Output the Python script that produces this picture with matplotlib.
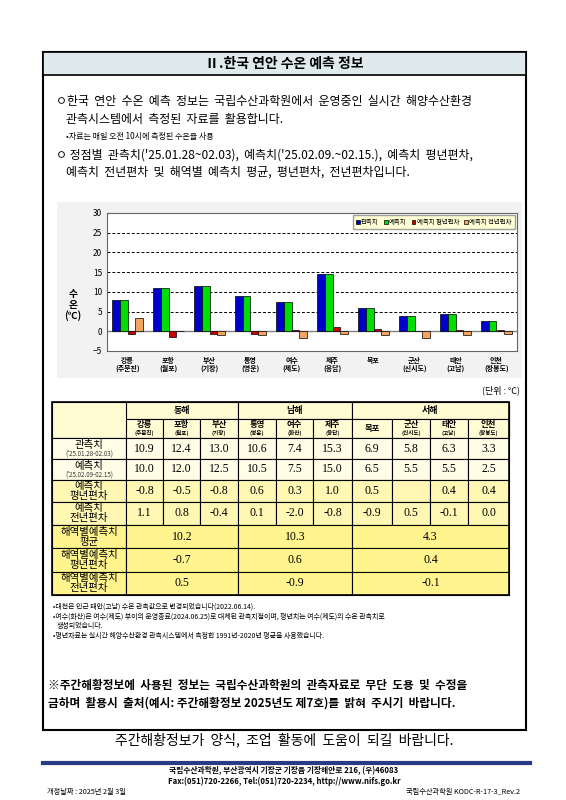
import matplotlib
matplotlib.use("Agg")
import matplotlib.pyplot as plt
from matplotlib.patches import Rectangle
import numpy as np

plt.rcParams['font.family'] = ['Noto Sans CJK KR', 'DejaVu Sans']

stations = ['강릉', '포항', '부산', '통영', '여수', '제주', '목포', '군산', '태안', '인천']
subnames = ['(주문진)', '(월포)', '(기장)', '(영운)', '(제도)', '(응답)', '', '(신시도)', '(고남)', '(장봉도)']
tbl_sub = ['(주문진)', '(월포)', '(기장)', '(영운)', '(화산)', '(응답)', '', '(신시도)', '(고남)', '(장봉도)']
# values as drawn in the chart
chart_obs = [8.0, 11.0, 11.5, 9.0, 7.5, 14.5, 6.0, 4.0, 4.5, 2.5]
chart_fc = [8.0, 11.0, 11.5, 9.0, 7.5, 14.5, 6.0, 4.0, 4.5, 2.5]
chart_norm = [-0.8, -1.5, -0.8, -0.6, 0.4, 1.1, 0.6, 0.0, 0.3, 0.3]
chart_prev = [3.3, 0.0, -1.0, -1.0, -1.7, -0.8, -0.9, -1.6, -1.0, -0.6]
series_names = ['관측치', '예측치', '예측치 평년편차', '예측치 전년편차']
series_colors = ['#0000cc', '#00dd00', '#cc0000', '#f4a460']

# table values
obs = ['10.9', '12.4', '13.0', '10.6', '7.4', '15.3', '6.9', '5.8', '6.3', '3.3']
fc = ['10.0', '12.0', '12.5', '10.5', '7.5', '15.0', '6.5', '5.5', '5.5', '2.5']
norm_dev = ['-0.8', '-0.5', '-0.8', '0.6', '0.3', '1.0', '0.5', '', '0.4', '0.4']
prev_dev = ['1.1', '0.8', '-0.4', '0.1', '-2.0', '-0.8', '-0.9', '0.5', '-0.1', '0.0']
seas = ['동해', '남해', '서해']
sea_mean = ['10.2', '10.3', '4.3']
sea_norm = ['-0.7', '0.6', '0.4']
sea_prev = ['0.5', '-0.9', '-0.1']

W, H = 566, 800
fig = plt.figure(figsize=(W / 100, H / 100), dpi=100)
fig.patch.set_facecolor('white')
ov = fig.add_axes([0, 0, 1, 1])
ov.set_xlim(0, W); ov.set_ylim(H, 0); ov.axis('off')

def box(x0, y0, x1, y1, fc='none', lw=0.8, ec='black', z=1):
    ov.add_patch(Rectangle((x0, y0), x1 - x0, y1 - y0, facecolor=fc, edgecolor=ec, lw=lw, zorder=z))

def txt(x, y, s, size=8.5, ha='left', weight='normal', **kw):
    ov.text(x, y, s, fontsize=size, ha=ha, va='center', fontweight=weight, **kw)

# frame and title
box(43, 52, 526, 730, lw=1.5)
box(43, 52, 526, 75, fc='#dfeaec', lw=1.2)
txt(284, 64, 'Ⅱ.한국 연안 수온 예측 정보', 10, 'center', 'bold')
txt(56, 102, 'ㅇ한국  연안  수온  예측  정보는  국립수산과학원에서  운영중인  실시간  해양수산환경', 8.6)
txt(66, 119, '관측시스템에서  측정된  자료를  활용합니다.', 8.6)
txt(66, 136, '•자료는 매일 오전 10시에 측정된 수온을 사용', 5.8)
txt(56, 155, 'ㅇ 정점별  관측치(\'25.01.28~02.03),  예측치(\'25.02.09.~02.15.),  예측치  평년편차,', 8.6)
txt(66, 172, '예측치  전년편차  및  해역별  예측치  평균,  평년편차,  전년편차입니다.', 8.6)

# chart
box(57, 202, 522, 378, fc='#f2f2f2', lw=0, ec='none', z=0)
ax = fig.add_axes([107 / W, 1 - 351 / H, 410 / W, 138 / H])
x = np.arange(len(stations))
w = 0.19
for i, vals in enumerate([chart_obs, chart_fc, chart_norm, chart_prev]):
    ax.bar(x + (i - 1.5) * w, vals, w, color=series_colors[i], edgecolor='black', lw=0.5,
           label=series_names[i], zorder=3)
ax.set_ylim(-5, 30)
ax.set_xlim(-0.5, len(stations) - 0.5)
ax.set_yticks(range(-5, 31, 5))
ax.tick_params(axis='y', labelsize=6, length=0)
ax.set_xticks(x)
ax.set_xticklabels([f'{a}\n{b}' for a, b in zip(stations, subnames)], fontsize=5, fontweight='bold')
ax.tick_params(axis='x', length=0, pad=4)
for yv in range(5, 30, 5):
    ax.axhline(yv, color='black', ls=(0, (3, 2)), lw=0.7, zorder=1)
ax.axhline(0, color='gray', lw=1, zorder=2)
for s in ax.spines.values():
    s.set_color('#666666'); s.set_linewidth(0.8)
leg = ax.legend(loc='upper right', ncol=4, fontsize=4.6, frameon=True, handlelength=0.6,
                handleheight=0.6, handletextpad=0.2, columnspacing=0.8, borderpad=0.5,
                fancybox=False, borderaxespad=0.3)
leg.get_frame().set_facecolor('#ffffcc'); leg.get_frame().set_edgecolor('#888888')
txt(73, 305, '수\n온\n(℃)', 7, 'center', 'bold', linespacing=1.1)
txt(520, 390, '(단위 : ℃)', 6.5, 'right')

# table
cols = [52, 126, 163, 200, 238, 276, 313, 352, 392, 430, 468, 509]
rows = [402, 419, 438, 459, 480, 502, 525, 548, 572, 595]
c_head, c_val, c_dev, c_sea = '#fffbd2', '#fffde6', '#fff7b4', '#fff48e'
# header
box(cols[0], rows[0], cols[-1], rows[2], fc=c_head)
for k, sea in enumerate(seas):
    a, b = cols[1 + 3 * k], cols[1 + 3 * k + 3] if k < 2 else cols[-1]
    box(a, rows[0], b, rows[1], fc=c_head)
    txt((a + b) / 2, (rows[0] + rows[1]) / 2, sea, 6.5, 'center', 'bold')
for j in range(10):
    a, b = cols[1 + j], cols[2 + j]
    box(a, rows[1], b, rows[2], fc=c_head)
    cy = (rows[1] + rows[2]) / 2
    if tbl_sub[j]:
        txt((a + b) / 2, cy - 3.5, stations[j], 6, 'center', 'bold')
        txt((a + b) / 2, cy + 4.5, tbl_sub[j], 4, 'center', 'bold')
    else:
        txt((a + b) / 2, cy, stations[j], 6, 'center', 'bold')
labels = [('관측치', "('25.01.28-02.03)"), ('예측치', "('25.02.09-02.15)"),
          ('예측치\n평년편차', None), ('예측치\n전년편차', None)]
data = [obs, fc, norm_dev, prev_dev]
fills = [c_val, c_val, c_dev, c_dev]
for r in range(4):
    y0, y1 = rows[2 + r], rows[3 + r]
    cy = (y0 + y1) / 2
    box(cols[0], y0, cols[1], y1, fc=fills[r])
    lab, sub = labels[r]
    if sub:
        txt(89, cy - 3.5, lab, 7.5, 'center')
        txt(89, cy + 5, sub, 4.5, 'center', color='#333333')
    else:
        txt(89, cy, lab, 7.5, 'center', linespacing=1.0)
    for j in range(10):
        a, b = cols[1 + j], cols[2 + j]
        box(a, y0, b, y1, fc=fills[r])
        txt((a + b) / 2, cy, data[r][j], 8.5, 'center', family=['Liberation Serif'])
sea_labels = ['해역별예측치\n평균', '해역별예측치\n평년편차', '해역별예측치\n전년편차']
for r, vals in enumerate([sea_mean, sea_norm, sea_prev]):
    y0, y1 = rows[6 + r], rows[7 + r]
    cy = (y0 + y1) / 2
    box(cols[0], y0, cols[1], y1, fc=c_sea)
    txt(89, cy, sea_labels[r], 7.5, 'center', linespacing=1.0)
    for k in range(3):
        a, b = cols[1 + 3 * k], cols[4 + 3 * k] if k < 2 else cols[-1]
        box(a, y0, b, y1, fc=c_sea)
        txt((a + b) / 2, cy, vals[k], 8.5, 'center', family=['Liberation Serif'])
box(cols[0], rows[0], cols[-1], rows[-1], lw=1.2)

txt(53, 607, '•대천은 인근 태안(고남) 수온 관측값으로 변경되었습니다(2022.06.14).', 5)
txt(53, 617, '•여수(화산)은 여수(제도) 부이의 운영종료(2024.06.25)로 대체된 관측지점이며, 평년치는 여수(제도)의 수온 관측치로', 5)
txt(57, 626, '생성되었습니다.', 5)
txt(53, 636, '•평년자료는 실시간 해양수산환경 관측시스템에서 측정한 1991년-2020년 평균을 사용했습니다.', 5)
txt(48, 685, '※주간해황정보에  사용된  정보는  국립수산과학원의  관측자료로  무단  도용  및  수정을', 8.4, weight='bold')
txt(48, 703, '금하며  활용시  출처(예시: 주간해황정보 2025년도 제7호)를  밝혀  주시기  바랍니다.', 8.4, weight='bold')

txt(284, 740, '주간해황정보가  양식,  조업  활동에  도움이  되길  바랍니다.', 10, 'center')
ov.plot([43, 530], [763, 763], color='#2b3a84', lw=3)
txt(284, 771, '국립수산과학원, 부산광역시 기장군 기장읍 기장해안로 216, (우)46083', 5.6, 'center', 'bold')
txt(284, 781, 'Fax:(051)720-2266, Tel:(051)720-2234, http://www.nifs.go.kr', 5.6, 'center', 'bold')
txt(47, 792, '개정날짜 : 2025년 2월 3일', 5.2)
txt(520, 792, '국립수산과학원 KODC-R-17-3_Rev.2', 5.2, 'right')

fig.savefig('out.png', dpi=100)
